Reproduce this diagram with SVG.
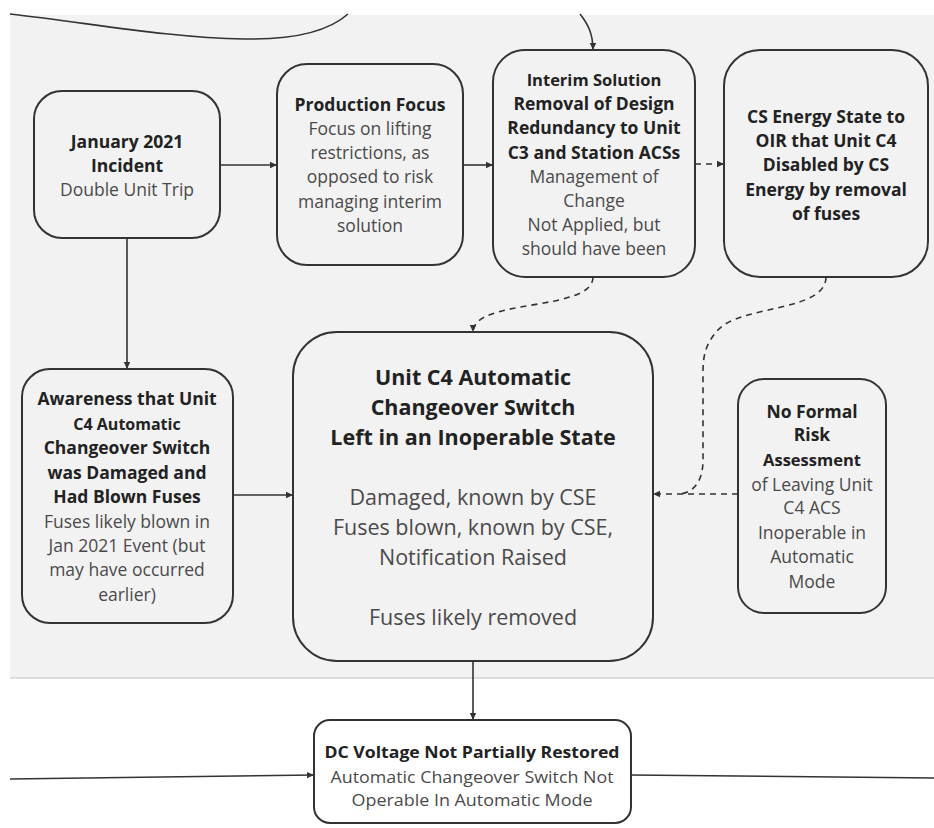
<svg xmlns="http://www.w3.org/2000/svg" width="934" height="828" viewBox="0 0 934 828">
  <style>
    .box { fill: none; stroke: #333; stroke-width: 2; }
    .wbox { fill: #fff; stroke: #333; stroke-width: 2; }
    .t { font-family: "Open Sans", "Liberation Sans", sans-serif; text-anchor: middle; }
    .b { font-weight: 700; fill: #222; font-size: 17.5px; }
    .r { font-weight: 400; fill: #4a4a4a; font-size: 17.5px; }
    .big { font-size: 21.5px; }
    .sm { font-size: 16.5px; }
    .line { fill: none; stroke: #333; stroke-width: 1.6; }
    .dash { fill: none; stroke: #333; stroke-width: 1.6; stroke-dasharray: 6 5; }
  </style>
  <defs>
    <marker id="arrow" markerWidth="8" markerHeight="8" refX="7" refY="4" orient="auto" markerUnits="userSpaceOnUse">
      <path d="M0,0.8 L7,4 L0,7.2 z" fill="#333"/>
    </marker>
  </defs>

  <!-- background -->
  <rect x="0" y="0" width="934" height="828" fill="#fff"/>
  <rect x="10" y="15" width="924" height="663" fill="#f2f2f2"/>
  <line x1="10" y1="678" x2="934" y2="678" stroke="#d4d4d4" stroke-width="1.5"/>

  <!-- connectors -->
  <g id="connectors">
    <path class="line" d="M10,14 C90,23 170,38 244,39 C300,40 330,30 348,14"/>
    <path class="line" d="M580,14 C588,24 593,34 593,50" marker-end="url(#arrow)"/>
    <path class="line" d="M220,165 H277" marker-end="url(#arrow)"/>
    <path class="line" d="M463,165 H493" marker-end="url(#arrow)"/>
    <path class="dash" d="M695,164 H724" marker-end="url(#arrow)"/>
    <path class="line" d="M127,238 V369" marker-end="url(#arrow)"/>
    <path class="line" d="M233,495 H293" marker-end="url(#arrow)"/>
    <path class="dash" d="M593,277 C593,312 473,298 473,332" marker-end="url(#arrow)"/>
    <path class="dash" d="M826,277 C826,312 740,305 718,330 C706,343 703,355 703,372 V460 C703,480 695,492 680,494"/>
    <path class="dash" d="M738,494 H653" marker-end="url(#arrow)"/>
    <path class="line" d="M473,661 V720" marker-end="url(#arrow)"/>
    <path class="line" d="M10,779 L314,775" marker-end="url(#arrow)"/>
    <path class="line" d="M631,775 L934,778"/>
  </g>

  <!-- nodes -->
  <g id="january">
    <rect class="box" x="34" y="91" width="186" height="147" rx="28"/>
    <text class="t b" x="127" y="148">January 2021</text>
    <text class="t b" x="127" y="172">Incident</text>
    <text class="t r" x="127" y="196">Double Unit Trip</text>
  </g>

  <g id="production">
    <rect class="box" x="277" y="64" width="186" height="201" rx="30"/>
    <text class="t b" x="370" y="111">Production Focus</text>
    <text class="t r" x="370" y="135">Focus on lifting</text>
    <text class="t r" x="370" y="159">restrictions, as</text>
    <text class="t r" x="370" y="183">opposed to risk</text>
    <text class="t r" x="370" y="208">managing interim</text>
    <text class="t r" x="370" y="232">solution</text>
  </g>

  <g id="interim">
    <rect class="box" x="493" y="50" width="202" height="227" rx="32"/>
    <text class="t b sm" x="594" y="86">Interim Solution</text>
    <text class="t b" x="594" y="110">Removal of Design</text>
    <text class="t b" x="594" y="134">Redundancy to Unit</text>
    <text class="t b" x="594" y="159">C3 and Station ACSs</text>
    <text class="t r" x="594" y="183">Management of</text>
    <text class="t r" x="594" y="207">Change</text>
    <text class="t r" x="594" y="231">Not Applied, but</text>
    <text class="t r" x="594" y="255">should have been</text>
  </g>

  <g id="cs-energy">
    <rect class="box" x="724" y="50" width="204" height="227" rx="36"/>
    <text class="t b" x="826" y="123">CS Energy State to</text>
    <text class="t b" x="826" y="147">OIR that Unit C4</text>
    <text class="t b" x="826" y="171">Disabled by CS</text>
    <text class="t b" x="826" y="196">Energy by removal</text>
    <text class="t b" x="826" y="220">of fuses</text>
  </g>

  <g id="awareness">
    <rect class="box" x="22" y="369" width="211" height="254" rx="28"/>
    <text class="t b" x="127" y="405">Awareness that Unit</text>
    <text class="t b" x="127" y="430" style="font-size:16px">C4 Automatic</text>
    <text class="t b" x="127" y="454">Changeover Switch</text>
    <text class="t b" x="127" y="479">was Damaged and</text>
    <text class="t b" x="127" y="503">Had Blown Fuses</text>
    <text class="t r" x="127" y="528">Fuses likely blown in</text>
    <text class="t r" x="127" y="552">Jan 2021 Event (but</text>
    <text class="t r" x="127" y="576">may have occurred</text>
    <text class="t r" x="127" y="601">earlier)</text>
  </g>

  <g id="main">
    <rect class="box" x="293" y="332" width="360" height="329" rx="44"/>
    <text class="t b big" x="473" y="385">Unit C4 Automatic</text>
    <text class="t b big" x="473" y="415">Changeover Switch</text>
    <text class="t b big" x="473" y="445">Left in an Inoperable State</text>
    <text class="t r big" x="473" y="505">Damaged, known by CSE</text>
    <text class="t r big" x="473" y="535">Fuses blown, known by CSE,</text>
    <text class="t r big" x="473" y="565">Notification Raised</text>
    <text class="t r big" x="473" y="625">Fuses likely removed</text>
  </g>

  <g id="no-formal">
    <rect class="box" x="738" y="379" width="148" height="234" rx="26"/>
    <text class="t b" x="812" y="418">No Formal</text>
    <text class="t b" x="812" y="441">Risk</text>
    <text class="t b sm" x="812" y="466">Assessment</text>
    <text class="t r" x="812" y="491">of Leaving Unit</text>
    <text class="t r" x="812" y="514">C4 ACS</text>
    <text class="t r" x="812" y="539">Inoperable in</text>
    <text class="t r" x="812" y="563">Automatic</text>
    <text class="t r" x="812" y="588">Mode</text>
  </g>

  <g id="dc-voltage">
    <rect class="wbox" x="314" y="720" width="317" height="103" rx="16"/>
    <text class="t b" x="472" y="758" style="font-size:16px" textLength="295" lengthAdjust="spacingAndGlyphs">DC Voltage Not Partially Restored</text>
    <text class="t r" x="472" y="783" style="font-size:16px" textLength="283" lengthAdjust="spacingAndGlyphs">Automatic Changeover Switch Not</text>
    <text class="t r" x="472" y="806" style="font-size:16px" textLength="241" lengthAdjust="spacingAndGlyphs">Operable In Automatic Mode</text>
  </g>
</svg>
